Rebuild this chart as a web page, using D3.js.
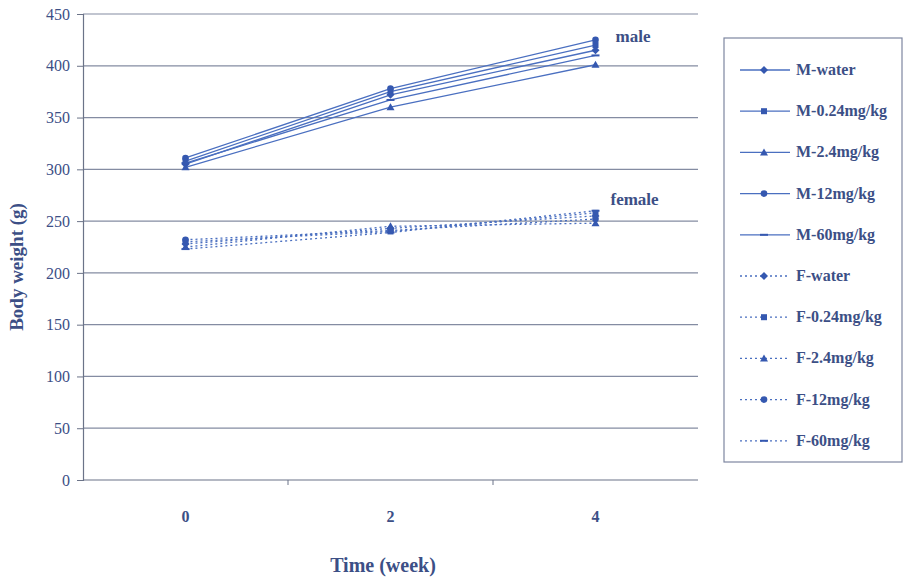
<!DOCTYPE html>
<html>
<head>
<meta charset="utf-8">
<script src="https://cdn.jsdelivr.net/npm/d3@7"></script>
<style>
  body { margin: 0; background: #fff; }
  text { font-family: "Liberation Serif", "DejaVu Serif", serif; font-weight: bold; fill: #3c4f86; }
</style>
</head>
<body>
<div id="chart"></div>
<script>
// weeks on the x axis
const weeks = ['0', '2', '4'];
const yTicks = [0, 50, 100, 150, 200, 250, 300, 350, 400, 450];

// series names
const seriesNames = ['M-water', 'M-0.24mg/kg', 'M-2.4mg/kg', 'M-12mg/kg', 'M-60mg/kg',
                     'F-water', 'F-0.24mg/kg', 'F-2.4mg/kg', 'F-12mg/kg', 'F-60mg/kg'];

// body weight (g) at week 0, 2, 4
const mWater = [305, 372, 415];
const m024 = [308, 375, 420];
const m24 = [302, 360, 401];
const m12 = [311, 378, 425];
const m60 = [306, 367, 410];
const fWater = [228, 243, 255];
const f024 = [230, 240, 258];
const f24 = [225, 245, 248];
const f12 = [232, 241, 252];
const f60 = [223, 239, 260];

const seriesValues = [mWater, m024, m24, m12, m60, fWater, f024, f24, f12, f60];
const markers = ['diamond', 'square', 'triangle', 'circle', 'dash',
                 'diamond', 'square', 'triangle', 'circle', 'dash'];

const width = 908, height = 582;
const margin = { top: 14, right: 210, bottom: 102, left: 83 };
const innerW = 698 - margin.left;
const innerH = height - margin.top - margin.bottom;

const svg = d3.select('#chart').append('svg')
    .attr('width', width)
    .attr('height', height);

const g = svg.append('g')
    .attr('transform', 'translate(' + margin.left + ',' + margin.top + ')');

const x = d3.scaleBand().domain(weeks).range([0, innerW]).paddingInner(0).paddingOuter(0);
const y = d3.scaleLinear().domain([0, 450]).range([innerH, 0]);

const lineColor = '#4a6fc0';
const markColor = '#3558b0';
const gridColor = '#848ca2';

// horizontal grid lines
g.selectAll('.grid')
    .data(yTicks.filter(d => d > 0))
    .enter().append('line')
    .attr('x1', 0).attr('x2', innerW)
    .attr('y1', d => y(d)).attr('y2', d => y(d))
    .style('stroke', gridColor)
    .style('stroke-width', 1.2);

// y axis
const yAxis = g.append('g')
    .call(d3.axisLeft(y).tickValues(yTicks).tickSize(6).tickPadding(7));
yAxis.select('.domain').style('stroke', '#6b7388').style('stroke-width', 1.2);
yAxis.selectAll('line').style('stroke', '#6b7388');
yAxis.selectAll('text').style('font-size', '16px').style('font-weight', 'normal').style('fill', '#3c4f86');

// x axis: baseline, ticks at band edges, labels at band centers
g.append('line')
    .attr('x1', 0).attr('x2', innerW)
    .attr('y1', innerH).attr('y2', innerH)
    .style('stroke', '#6b7388').style('stroke-width', 1.2);
g.selectAll('.xtick')
    .data(weeks.slice(1))
    .enter().append('line')
    .attr('x1', d => x(d)).attr('x2', d => x(d))
    .attr('y1', innerH).attr('y2', innerH + 5)
    .style('stroke', '#6b7388');
g.selectAll('.xlabel')
    .data(weeks)
    .enter().append('text')
    .attr('x', d => x(d) + x.bandwidth() / 2)
    .attr('y', innerH + 42)
    .attr('text-anchor', 'middle')
    .style('font-size', '16px')
    .text(d => d);

// axis titles
svg.append('text')
    .attr('transform', 'translate(23,' + (margin.top + innerH / 2 + 20) + ') rotate(-90)')
    .attr('text-anchor', 'middle')
    .style('font-size', '19px')
    .text('Body weight (g)');
svg.append('text')
    .attr('x', 383).attr('y', 572)
    .attr('text-anchor', 'middle')
    .style('font-size', '20px')
    .text('Time (week)');

// marker shapes
function drawMarker(sel, type, cx, cy) {
    if (type === 'diamond') {
        sel.append('path').attr('d', `M${cx},${cy - 4}L${cx + 4},${cy}L${cx},${cy + 4}L${cx - 4},${cy}Z`)
            .style('fill', markColor);
    } else if (type === 'square') {
        sel.append('rect').attr('x', cx - 3).attr('y', cy - 3).attr('width', 6).attr('height', 6)
            .style('fill', markColor);
    } else if (type === 'triangle') {
        sel.append('path').attr('d', `M${cx},${cy - 4}L${cx + 4},${cy + 3}L${cx - 4},${cy + 3}Z`)
            .style('fill', markColor);
    } else if (type === 'circle') {
        sel.append('circle').attr('cx', cx).attr('cy', cy).attr('r', 3.3)
            .style('fill', markColor);
    } else {
        sel.append('line').attr('x1', cx - 4).attr('x2', cx + 4).attr('y1', cy).attr('y2', cy)
            .style('stroke', markColor).style('stroke-width', 2);
    }
}

const line = d3.line()
    .x((d, i) => x(weeks[i]) + x.bandwidth() / 2)
    .y(d => y(d));

seriesValues.forEach((vals, s) => {
    const female = s >= 5;
    g.append('path')
        .datum(vals)
        .attr('d', line)
        .style('fill', 'none')
        .style('stroke', lineColor)
        .style('stroke-width', 1.3)
        .style('stroke-dasharray', female ? '2,3' : null);
    vals.forEach((v, i) => drawMarker(g, markers[s], x(weeks[i]) + x.bandwidth() / 2, y(v)));
});

// group labels
g.append('text').attr('x', x('4') + x.bandwidth() / 2 + 20).attr('y', y(m12[2]) + 2)
    .style('font-size', '17px').text('male');
g.append('text').attr('x', x('4') + x.bandwidth() / 2 + 15).attr('y', y(f60[2]) - 6)
    .style('font-size', '17px').text('female');

// legend
const legend = svg.append('g').attr('transform', 'translate(724,38)');
legend.append('rect')
    .attr('width', 178).attr('height', 424)
    .style('fill', '#fff')
    .style('stroke', '#7d86a0')
    .style('stroke-width', 1.2);
seriesNames.forEach((name, s) => {
    const ly = 32 + s * 41.2;
    legend.append('line')
        .attr('x1', 16).attr('x2', 66).attr('y1', ly).attr('y2', ly)
        .style('stroke', lineColor).style('stroke-width', 1.3)
        .style('stroke-dasharray', s >= 5 ? '2,3' : null);
    drawMarker(legend, markers[s], 40, ly);
    legend.append('text')
        .attr('x', 72).attr('y', ly + 5)
        .style('font-size', '16px')
        .text(name);
});
</script>
</body>
</html>
